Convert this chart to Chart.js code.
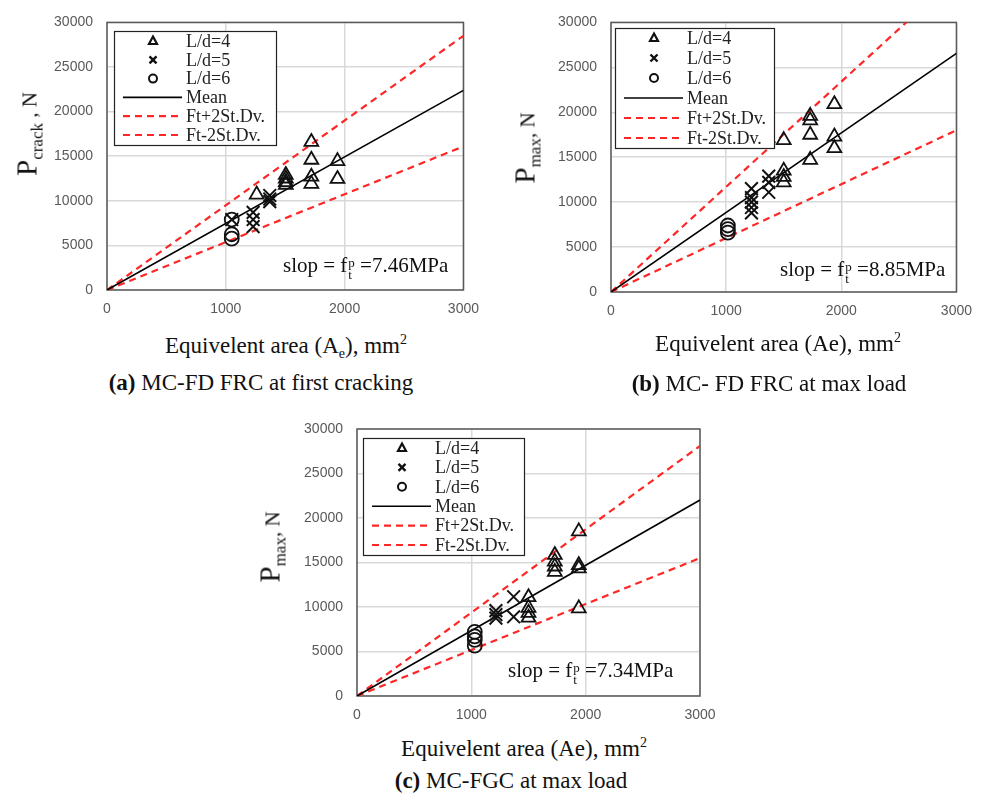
<!DOCTYPE html>
<html>
<head>
<meta charset="utf-8">
<title>Equivalent area vs load</title>
<script src="https://cdn.jsdelivr.net/npm/chart.js@4.4.1/dist/chart.umd.min.js"></script>
<style>
  html, body { margin: 0; padding: 0; background: #fff; }
  body { position: relative; width: 983px; height: 793px; overflow: hidden;
         font-family: "Liberation Serif", "Times New Roman", serif; color: #111; }
  canvas { position: absolute; }
  .lbl { position: absolute; white-space: nowrap; line-height: 1; }
  .xt, .cap { font-size: 23px; transform: translate(-50%, -50%); }
  .yt { font-size: 21px; transform: translate(-50%, -50%) rotate(-90deg); }
  .yt .p { font-size: 29px; }
  .yt .s { font-size: 17px; position: relative; top: 6px; }
  .slope { font-size: 21px; transform: translateY(-50%); }
  .ft { display: inline-flex; flex-direction: column; font-size: 13px; line-height: 12px; vertical-align: 5px; margin-left: 1px; }
  sub, sup { font-size: 14px; line-height: 0; }
</style>
</head>
<body>
<canvas id="chart-a" width="490" height="330" style="left:0;top:0"></canvas>
<canvas id="chart-b" width="493" height="330" style="left:490px;top:0"></canvas>
<canvas id="chart-c" width="490" height="330" style="left:240px;top:400px"></canvas>

<!-- (a) -->
<div class="lbl yt" style="left:27px;top:134px"><span class="p">P</span><span class="s">crack</span> , N</div>
<div class="lbl slope" style="left:283px;top:268px">slop = f<span class="ft"><span>p</span><span>t</span></span> =7.46MPa</div>
<div class="lbl xt" style="left:286px;top:345px">Equivelent area (A<sub>e</sub>), mm<sup>2</sup></div>
<div class="lbl cap" style="left:261px;top:382px"><b>(a)</b> MC-FD FRC at first cracking</div>

<!-- (b) -->
<div class="lbl yt" style="left:525px;top:148px"><span class="p">P</span><span class="s">max</span>, N</div>
<div class="lbl slope" style="left:780px;top:272px">slop = f<span class="ft"><span>p</span><span>t</span></span> =8.85MPa</div>
<div class="lbl xt" style="left:778px;top:343px">Equivelent area (Ae), mm<sup>2</sup></div>
<div class="lbl cap" style="left:769px;top:383px"><b>(b)</b> MC- FD FRC at max load</div>

<!-- (c) -->
<div class="lbl yt" style="left:270px;top:547px"><span class="p">P</span><span class="s">max</span>, N</div>
<div class="lbl slope" style="left:508px;top:673px">slop = f<span class="ft"><span>p</span><span>t</span></span> =7.34MPa</div>
<div class="lbl xt" style="left:524px;top:748px">Equivelent area (Ae), mm<sup>2</sup></div>
<div class="lbl cap" style="left:511px;top:780px"><b>(c)</b> MC-FGC at max load</div>

<script>
// axis ticks
const xTicks = [0, 1000, 2000, 3000];
const yTicks = [0, 5000, 10000, 15000, 20000, 25000, 30000];
const legendLabels = ['L/d=4', 'L/d=5', 'L/d=6', 'Mean', 'Ft+2St.Dv.', 'Ft-2St.Dv.'];
const lineX = [0, 3000];

// (a) first cracking
const aTriX = [1720, 1720, 1720, 1720, 1940, 1940, 1260, 1505, 1505, 1505, 1505];
const aTriY = [16600, 14600, 12700, 11900, 14450, 12450, 10700, 12900, 12500, 12100, 11800];
const aCrossX = [1370, 1370, 1370, 1230, 1230, 1230, 1050];
const aCrossY = [10600, 10200, 9900, 8700, 7900, 7100, 7900];
const aCircX = [1050, 1050, 1050];
const aCircY = [7900, 6250, 5750];
const aLineY = [22380, 28500, 16100]; // mean, +2sd, -2sd at x = 3000

// (b) max load
const bTriX = [1940, 1940, 1940, 1730, 1730, 1730, 1730, 1500, 1500, 1500, 1500];
const bTriY = [20900, 17300, 16000, 19600, 19100, 17500, 14700, 16900, 13500, 12800, 12200];
const bCrossX = [1220, 1220, 1220, 1220, 1220, 1370, 1370, 1370];
const bCrossY = [11500, 10500, 10000, 9400, 8800, 12900, 12200, 11100];
const bCircX = [1015, 1015, 1015];
const bCircY = [7400, 7000, 6600];
const bLineY = [26550, 35100, 18000];

// (c) MC-FGC max load
const cTriX = [1940, 1940, 1940, 1940, 1730, 1730, 1730, 1730, 1500, 1500, 1500, 1500];
const cTriY = [18500, 14700, 14350, 9850, 15850, 15100, 14550, 13950, 11100, 9900, 9350, 8800];
const cCrossX = [1370, 1370, 1215, 1215, 1215];
const cCrossY = [11150, 8900, 9600, 9150, 8750];
const cCircX = [1030, 1030, 1030, 1030];
const cCircY = [7200, 6700, 6300, 5650];
const cLineY = [22020, 28100, 15500];

const pts = (xs, ys) => xs.map((x, i) => ({ x, y: ys[i] }));

const plotDecor = {
  id: 'plotDecor',
  beforeDatasetsDraw(chart) {
    const a = chart.chartArea, ctx = chart.ctx;
    ctx.save();
    ctx.strokeStyle = '#595959';
    ctx.lineWidth = 1.5;
    ctx.strokeRect(a.left, a.top, a.right - a.left, a.bottom - a.top);
    ctx.restore();
  },
  afterDatasetsDraw(chart, args, o) {
    const a = chart.chartArea, ctx = chart.ctx, box = o.box;
    if (!box) return;
    const bx = Math.round(a.left + box.dx), by = Math.round(a.top + box.dy);
    ctx.save();
    ctx.fillStyle = '#fff';
    ctx.fillRect(bx, by, box.w, box.h);
    ctx.strokeStyle = '#222';
    ctx.lineWidth = 1.2;
    ctx.strokeRect(bx + 0.5, by + 0.5, box.w, box.h);
    const step = (box.h - 20) / 5;
    ctx.font = '18px "Liberation Serif"';
    ctx.textBaseline = 'middle';
    chart.data.datasets.forEach((ds, i) => {
      const y = by + 10 + i * step;
      const sx = bx + 39;
      ctx.strokeStyle = ds.borderColor;
      ctx.setLineDash([]);
      ctx.beginPath();
      if (ds.showLine) {
        ctx.lineWidth = ds.borderWidth;
        ctx.setLineDash(ds.borderDash || []);
        ctx.moveTo(bx + 9, y);
        ctx.lineTo(bx + 68, y);
      } else if (ds.pointStyle === 'triangle') {
        ctx.lineWidth = 2.2;
        ctx.moveTo(sx, y - 4.5);
        ctx.lineTo(sx + 4, y + 3);
        ctx.lineTo(sx - 4, y + 3);
        ctx.closePath();
      } else if (ds.pointStyle === 'crossRot') {
        ctx.lineWidth = 2.4;
        ctx.moveTo(sx - 3.5, y - 3.5); ctx.lineTo(sx + 3.5, y + 3.5);
        ctx.moveTo(sx + 3.5, y - 3.5); ctx.lineTo(sx - 3.5, y + 3.5);
      } else {
        ctx.lineWidth = 2;
        ctx.arc(sx, y, 4, 0, Math.PI * 2);
      }
      ctx.stroke();
      ctx.setLineDash([]);
      ctx.fillStyle = '#222';
      ctx.fillText(ds.label, bx + 72, y + 1);
    });
    ctx.restore();
  }
};

function buildChart(canvasId, s) {
  const mark = { borderColor: '#111', backgroundColor: 'rgba(0,0,0,0)', order: 0 };
  const line = (label, yEnd, color, width, dash) => ({
    label, data: pts(lineX, [0, yEnd]), showLine: true, pointRadius: 0,
    borderColor: color, borderWidth: width, borderDash: dash, order: 1
  });
  const tickFont = { family: '"Liberation Sans", Arial, sans-serif', size: 14 };
  return new Chart(document.getElementById(canvasId), {
    type: 'scatter',
    data: {
      datasets: [
        { ...mark, label: legendLabels[0], data: pts(s.triX, s.triY), pointStyle: 'triangle', pointRadius: 8, borderWidth: 1.8 },
        { ...mark, label: legendLabels[1], data: pts(s.crossX, s.crossY), pointStyle: 'crossRot', pointRadius: 9, borderWidth: 2 },
        { ...mark, label: legendLabels[2], data: pts(s.circX, s.circY), pointStyle: 'circle', pointRadius: 7, borderWidth: 1.8 },
        line(legendLabels[3], s.lineY[0], '#000', 1.6, []),
        line(legendLabels[4], s.lineY[1], '#ff2626', 2.2, [7, 5]),
        line(legendLabels[5], s.lineY[2], '#ff2626', 2.2, [7, 5])
      ]
    },
    options: {
      responsive: false,
      animation: false,
      events: [],
      layout: { padding: { top: s.padTop, right: s.padRight, left: 0, bottom: 0 } },
      plugins: {
        legend: { display: false },
        tooltip: { enabled: false },
        plotDecor: { box: s.box }
      },
      scales: {
        x: {
          type: 'linear', min: 0, max: 3000,
          afterBuildTicks: sc => { sc.ticks = xTicks.map(v => ({ value: v })); },
          afterFit: sc => { sc.height = s.axisH; },
          ticks: { color: '#595959', font: tickFont, padding: 11, maxRotation: 0, callback: v => String(v) },
          grid: { color: '#d9d9d9', lineWidth: 1.5, drawTicks: false },
          border: { display: false }
        },
        y: {
          type: 'linear', min: 0, max: 30000,
          afterBuildTicks: sc => { sc.ticks = yTicks.map(v => ({ value: v })); },
          afterFit: sc => { sc.width = s.axisW; },
          ticks: { color: '#595959', font: tickFont, padding: 14, callback: v => String(v) },
          grid: { color: '#d9d9d9', lineWidth: 1.5, drawTicks: false },
          border: { display: false }
        }
      }
    },
    plugins: [plotDecor]
  });
}

buildChart('chart-a', {
  triX: aTriX, triY: aTriY, crossX: aCrossX, crossY: aCrossY, circX: aCircX, circY: aCircY, lineY: aLineY,
  axisW: 107, axisH: 40, padTop: 18, padRight: 26,
  box: { dx: 7, dy: 9, w: 162, h: 114 }
});
buildChart('chart-b', {
  triX: bTriX, triY: bTriY, crossX: bCrossX, crossY: bCrossY, circX: bCircX, circY: bCircY, lineY: bLineY,
  axisW: 121, axisH: 38, padTop: 21, padRight: 26,
  box: { dx: 4, dy: 6, w: 159, h: 120 }
});
buildChart('chart-c', {
  triX: cTriX, triY: cTriY, crossX: cCrossX, crossY: cCrossY, circX: cCircX, circY: cCircY, lineY: cLineY,
  axisW: 117, axisH: 34, padTop: 29, padRight: 30,
  box: { dx: 6, dy: 9, w: 161, h: 117 }
});
</script>
</body>
</html>
